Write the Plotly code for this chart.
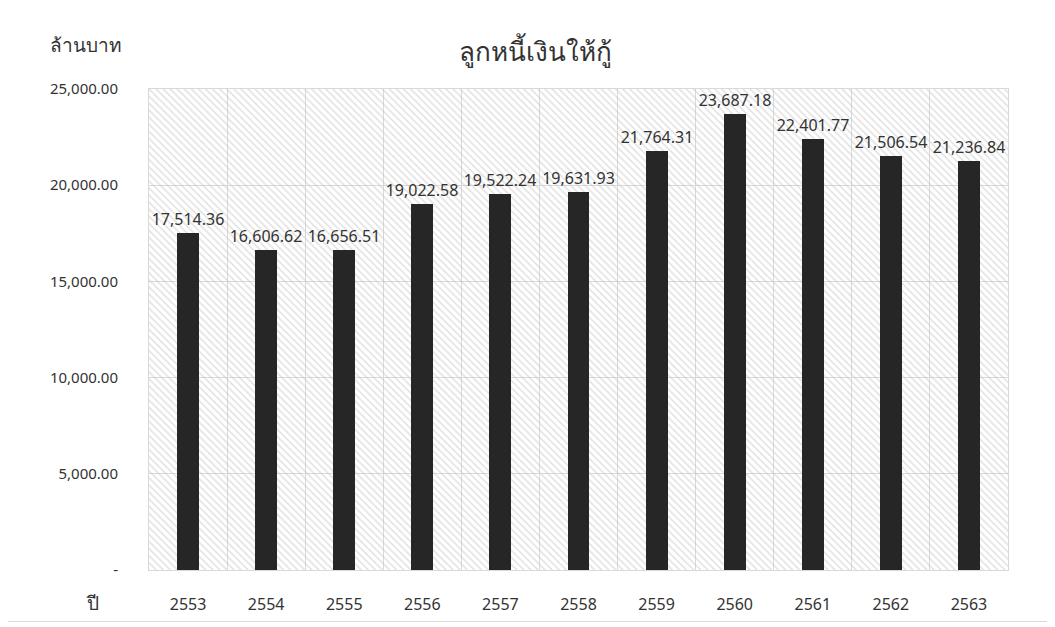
import plotly.graph_objects as go

years = ["2553", "2554", "2555", "2556", "2557", "2558", "2559", "2560", "2561", "2562", "2563"]
values = [17514.36, 16606.62, 16656.51, 19022.58, 19522.24, 19631.93, 21764.31, 23687.18, 22401.77, 21506.54, 21236.84]
y_tickvals = [0, 5000, 10000, 15000, 20000, 25000]
y_ticktext = ["-", "5,000.00", "10,000.00", "15,000.00", "20,000.00", "25,000.00"]
y_max = 25000

FONT = "Noto Sans, Tahoma, sans-serif"

fig = go.Figure()

# hatched plot-area background
fig.add_trace(go.Bar(
    x=years, y=[y_max] * len(years), width=1.0,
    marker=dict(color="rgba(0,0,0,0)", line=dict(width=0),
                pattern=dict(shape="\\", fgcolor="#c4c4c4", bgcolor="rgba(0,0,0,0)",
                             size=5, solidity=0.3)),
    hoverinfo="skip", showlegend=False,
))

fig.add_trace(go.Bar(
    x=years, y=values, width=0.28,
    marker=dict(color="#262626", line=dict(width=0)),
    text=[f"{v:,.2f}" for v in values], textposition="outside",
    constraintext="none",
    textfont=dict(family=FONT, size=16, color="#333333"),
    cliponaxis=False, showlegend=False,
))

fig.update_layout(
    width=1055, height=627,
    margin=dict(l=141, r=55, t=81, b=65),
    paper_bgcolor="white", plot_bgcolor="white",
    barmode="overlay", bargap=0,
    font=dict(family=FONT, size=14, color="#333333"),
    title=dict(text="ลูกหนี้เงินให้กู้", x=0.50, xref="container", xanchor="center",
               y=0.93, yref="container", yanchor="middle",
               font=dict(family=FONT, size=26, color="#333333")),
    xaxis=dict(type="category", tickson="boundaries", showgrid=True, gridcolor="#d9d9d9",
               ticks="", showline=True, linecolor="#d9d9d9", mirror=True,
               ticklabelstandoff=20, tickfont=dict(size=16, color="#333333")),
    yaxis=dict(range=[0, y_max], tickvals=y_tickvals, ticktext=y_ticktext,
               showgrid=True, gridcolor="#d9d9d9", zeroline=False,
               showline=True, linecolor="#d9d9d9", mirror=True, ticks="",
               ticklabelstandoff=27, tickfont=dict(size=15, color="#333333")),
    annotations=[
        dict(text="ล้านบาท", x=-0.073, y=1.091, xref="paper", yref="paper",
             xanchor="center", yanchor="middle", showarrow=False,
             font=dict(family=FONT, size=19, color="#333333")),
        dict(text="ปี", x=-0.066, y=-0.069, xref="paper", yref="paper",
             xanchor="center", yanchor="middle", showarrow=False,
             font=dict(family=FONT, size=19, color="#333333")),
    ],
    shapes=[dict(type="rect", xref="paper", yref="paper",
                 x0=-0.168, x1=1.052, y0=-0.107, y1=1.175,
                 line=dict(color="#d9d9d9", width=1))],
)

fig.write_html("out.html")
